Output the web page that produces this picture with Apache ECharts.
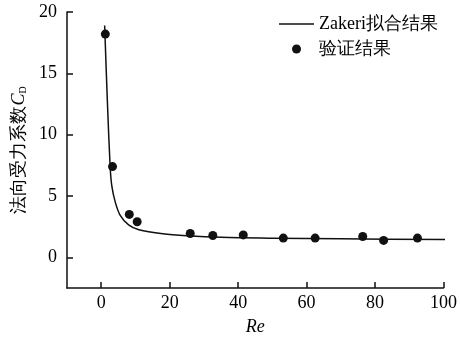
<!DOCTYPE html>
<html>
<head>
<meta charset="utf-8">
<script src="https://cdn.jsdelivr.net/npm/echarts@6/dist/echarts.min.js"></script>
<style>
  html, body { margin: 0; padding: 0; background: #fff; }
  #main { width: 460px; height: 341px; }
</style>
</head>
<body>
<div id="main"></div>
<script>
  // fitted curve
  const fitRe = [1.0, 1.8, 2.6, 3.1, 4.1, 5.5, 8, 11, 18, 25, 35, 50, 70, 101]
  const fitCd = [18.9, 12.7, 7.4, 5.8, 4.5, 3.45, 2.65, 2.25, 1.92, 1.76, 1.63, 1.56, 1.51, 1.45]

  // validation points
  const testRe = [1.2, 3.3, 8.2, 10.5, 26, 32.6, 41.5, 53.2, 62.5, 76.4, 82.5, 92.4]
  const testCd = [18.2, 7.4, 3.5, 2.9, 1.94, 1.78, 1.83, 1.57, 1.57, 1.7, 1.38, 1.57]

  const xTicks = [0, 20, 40, 60, 80, 100]
  const yTicks = [0, 5, 10, 15, 20]

  const fontSerif = 'Liberation Serif'

  const chart = echarts.init(document.getElementById('main'))

  const option = {
    animation: false,
    textStyle: { fontFamily: fontSerif },
    grid: { left: 67, right: 16, top: 12, bottom: 46 },
    legend: {
      orient: 'vertical',
      right: 17,
      top: 10,
      itemWidth: 35,
      itemHeight: 9,
      itemGap: 7,
      textStyle: { fontFamily: fontSerif, fontSize: 18, color: '#000' },
      data: [
        { name: 'Zakeri拟合结果', icon: 'path://M0,0 L35,0 L35,1.5 L0,1.5 Z' },
        { name: '验证结果', icon: 'circle' },
      ],
    },
    xAxis: {
      type: 'value',
      min: -10,
      max: 100,
      name: 'Re',
      nameLocation: 'middle',
      nameGap: 30,
      nameTextStyle: { fontFamily: fontSerif, fontSize: 18, fontStyle: 'italic', color: '#000' },
      axisLine: { show: true, onZero: false, lineStyle: { color: '#111', width: 1.5 } },
      axisTick: { show: true, inside: true, length: 6, customValues: xTicks, lineStyle: { color: '#111', width: 1.5 } },
      axisLabel: { customValues: xTicks, margin: 6, fontFamily: fontSerif, fontSize: 18, color: '#000' },
      splitLine: { show: false },
    },
    yAxis: {
      type: 'value',
      min: -2.5,
      max: 20,
      name: '{a|法向受力系数}{c|C}{d|D}',
      nameLocation: 'middle',
      nameGap: 33,
      nameTextStyle: {
        fontFamily: fontSerif,
        rich: {
          a: { fontFamily: fontSerif, fontSize: 18, color: '#000' },
          c: { fontFamily: fontSerif, fontSize: 18, fontStyle: 'italic', color: '#000' },
          d: { fontFamily: fontSerif, fontSize: 10, color: '#000', verticalAlign: 'bottom', padding: [6, 0, 0, 0] },
        },
      },
      axisLine: { show: true, onZero: false, lineStyle: { color: '#111', width: 1.5 } },
      axisTick: { show: true, inside: true, length: 6, customValues: yTicks, lineStyle: { color: '#111', width: 1.5 } },
      axisLabel: { customValues: yTicks, margin: 10, fontFamily: fontSerif, fontSize: 18, color: '#000' },
      splitLine: { show: false },
    },
    series: [
      {
        name: 'Zakeri拟合结果',
        type: 'line',
        data: fitRe.map((x, i) => [x, fitCd[i]]),
        smooth: 0.3,
        symbol: 'none',
        lineStyle: { color: '#111', width: 1.5 },
        itemStyle: { color: '#111' },
      },
      {
        name: '验证结果',
        type: 'scatter',
        data: testRe.map((x, i) => [x, testCd[i]]),
        symbol: 'circle',
        symbolSize: 9,
        itemStyle: { color: '#111', opacity: 1 },
      },
    ],
  }

  chart.setOption(option)
</script>
</body>
</html>
